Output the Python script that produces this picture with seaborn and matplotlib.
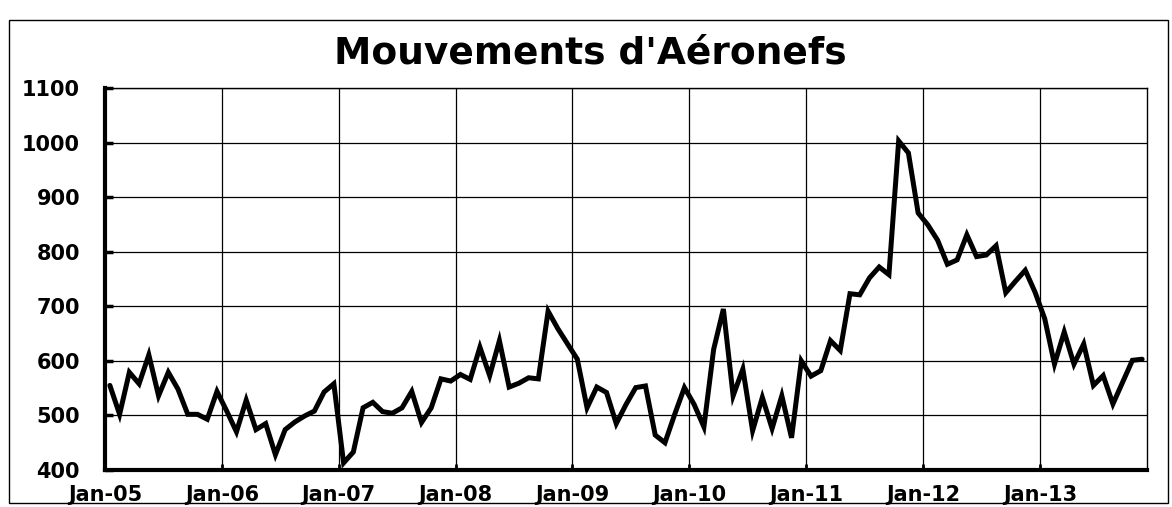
import numpy as np
import pandas as pd
import matplotlib
matplotlib.use("Agg")
import matplotlib.pyplot as plt
import seaborn as sns
from matplotlib.patches import Rectangle

# Mouvements mensuels, Jan-05 a Nov-13
val_2005 = [555, 502, 579, 558, 611, 536, 579, 548, 502, 502, 493, 544]
val_2006 = [508, 470, 528, 474, 485, 428, 474, 488, 499, 508, 543, 558]
val_2007 = [413, 433, 514, 524, 507, 504, 514, 544, 487, 514, 567, 563]
val_2008 = [575, 566, 625, 573, 637, 552, 559, 569, 567, 691, 659, 631]
val_2009 = [603, 514, 552, 542, 485, 520, 551, 554, 464, 450, 502, 551]
val_2010 = [520, 479, 621, 695, 536, 585, 472, 533, 476, 536, 459, 600]
val_2011 = [572, 582, 637, 619, 723, 721, 752, 772, 758, 1003, 981, 871]
val_2012 = [849, 821, 777, 785, 831, 791, 794, 811, 725, 746, 766, 726]
val_2013 = [677, 594, 653, 594, 631, 555, 573, 521, 561, 601, 603]

tick_labels = ["Jan-05", "Jan-06", "Jan-07", "Jan-08", "Jan-09",
               "Jan-10", "Jan-11", "Jan-12", "Jan-13"]
y_ticks = [400, 500, 600, 700, 800, 900, 1000, 1100]

TITLE = "Mouvements d'Aéronefs"


def main():
    sns.set_theme(style="white")
    plt.rcParams['font.family'] = ['DejaVu Sans']

    valeurs = (val_2005 + val_2006 + val_2007 + val_2008 + val_2009
               + val_2010 + val_2011 + val_2012 + val_2013)
    df = pd.DataFrame({'mois': np.arange(len(valeurs)) + 0.5,
                       'mouvements': valeurs})

    fig = plt.figure(figsize=(11.72, 5.07), dpi=100)
    fig.patch.set_facecolor('white')
    ax = fig.add_axes([105 / 1172, 37 / 507, 1042 / 1172, 382 / 507])

    sns.lineplot(data=df, x='mois', y='mouvements', color='black',
                 linewidth=3.6, ax=ax, solid_joinstyle='miter')

    ax.set_xlim(0, len(valeurs))
    ax.set_ylim(400, 1100)
    ax.set_xticks(np.arange(len(tick_labels)) * 12)
    ax.set_xticklabels(tick_labels)
    ax.set_yticks(y_ticks)
    ax.set_xlabel('')
    ax.set_ylabel('')

    # grille noire
    ax.grid(True, color='black', linewidth=0.9)
    ax.set_axisbelow(True)

    for s in ['left', 'bottom']:
        ax.spines[s].set_linewidth(3)
        ax.spines[s].set_color('black')
    for s in ['top', 'right']:
        ax.spines[s].set_linewidth(1)
        ax.spines[s].set_color('black')

    ax.tick_params(axis='y', direction='in', length=6, width=2.5,
                   pad=18, labelsize=15, colors='black', left=True)
    ax.tick_params(axis='x', direction='in', length=4, width=2,
                   pad=11, labelsize=15, colors='black', bottom=True)
    for lab in ax.get_xticklabels() + ax.get_yticklabels():
        lab.set_fontweight('bold')

    fig.text(590 / 1172, 1 - 54 / 507, TITLE, fontsize=27,
             fontweight='bold', ha='center', va='center', color='black')

    # cadre exterieur
    fig.patches.append(Rectangle((9 / 1172, 4 / 507), 1159 / 1172, 483 / 507,
                                 transform=fig.transFigure, fill=False,
                                 edgecolor='black', linewidth=1))

    fig.savefig('out.png', dpi=100, facecolor='white')
    plt.close()


if __name__ == "__main__":
    main()
